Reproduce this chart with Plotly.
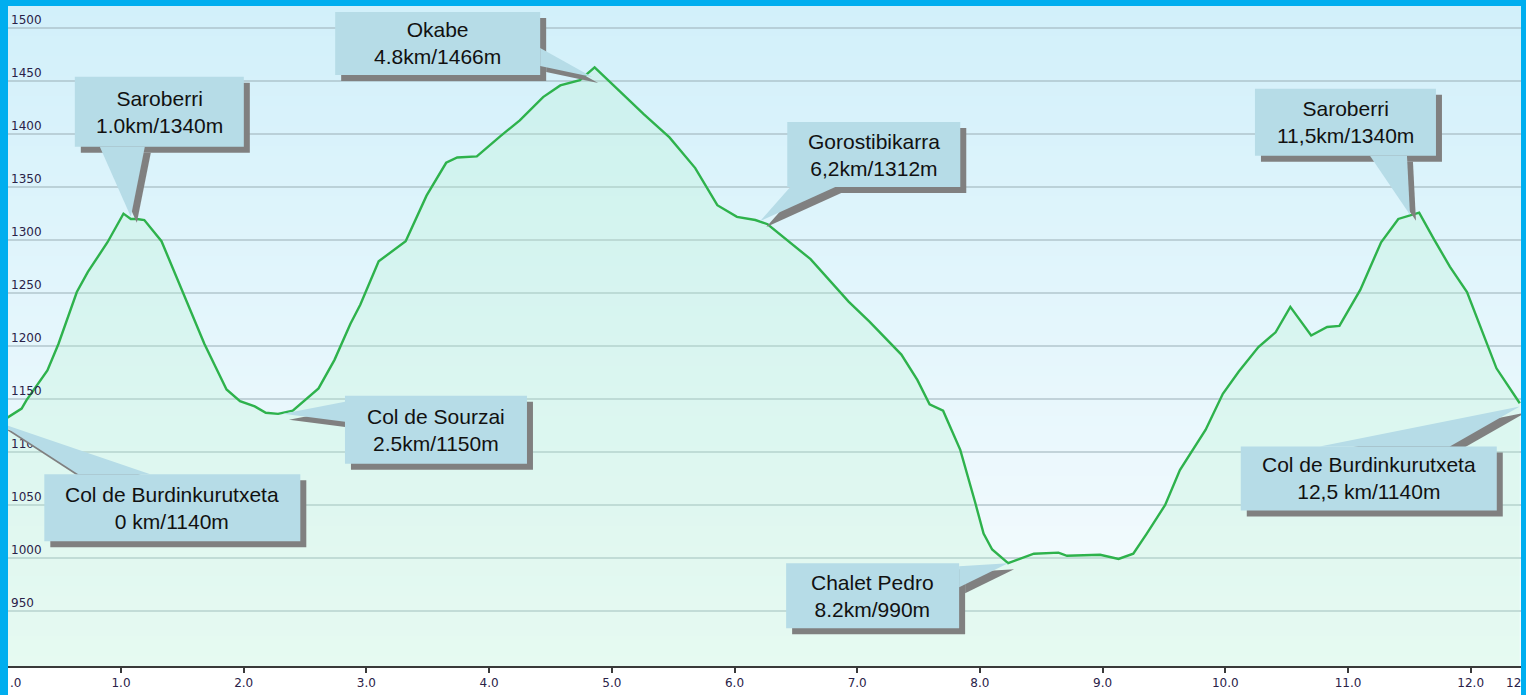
import plotly.graph_objects as go

# ---------------------------------------------------------------------------
# Data: elevation profile of the loop (distance km, elevation m)
# ---------------------------------------------------------------------------
DIST_KM = [
    0.00, 0.19, 0.23, 0.40, 0.49, 0.64, 0.73, 0.89, 1.02, 1.08, 1.13, 1.19,
    1.33, 1.49, 1.68, 1.86, 1.97, 2.09, 2.18, 2.28, 2.40, 2.61, 2.74, 2.87,
    2.95, 3.10, 3.32, 3.49, 3.65, 3.74, 3.90, 4.09, 4.25, 4.44, 4.58, 4.74,
    4.86, 5.07, 5.26, 5.47, 5.68, 5.86, 6.02, 6.17, 6.27, 6.62, 6.93, 7.10,
    7.36, 7.49, 7.59, 7.70, 7.84, 7.96, 8.03, 8.10, 8.23, 8.44, 8.64, 8.71,
    8.98, 9.13, 9.25, 9.36, 9.51, 9.63, 9.84, 9.98, 10.11, 10.27, 10.41,
    10.53, 10.70, 10.83, 10.93, 11.10, 11.27, 11.41, 11.52, 11.58, 11.70,
    11.83, 11.97, 12.21, 12.40,
]
ELEV_M = [
    1127, 1141, 1149, 1177, 1202, 1251, 1270, 1298, 1325, 1320, 1320, 1319,
    1299, 1254, 1202, 1159, 1148, 1143, 1137, 1136, 1139, 1160, 1187, 1221,
    1239, 1280, 1299, 1342, 1373, 1378, 1379, 1398, 1413, 1435, 1446, 1451,
    1463, 1440, 1419, 1397, 1368, 1333, 1322, 1319, 1315, 1282, 1242, 1223,
    1192, 1168, 1145, 1139, 1102, 1053, 1023, 1008, 995, 1004, 1005, 1002,
    1003, 999, 1004, 1023, 1050, 1083, 1121, 1155, 1176, 1199, 1213,
    1237, 1210, 1218, 1219, 1253, 1298, 1320, 1324, 1326, 1301,
    1275, 1251, 1179, 1146,
]

Y_TICKS = [950, 1000, 1050, 1100, 1150, 1200, 1250, 1300, 1350, 1400, 1450, 1500]
X_TICKS = [1.0, 2.0, 3.0, 4.0, 5.0, 6.0, 7.0, 8.0, 9.0, 10.0, 11.0, 12.0]

# waypoints shown in the callouts
CALLOUT_TEXT = [
    "Col de Burdinkurutxeta<br>0 km/1140m",
    "Saroberri<br>1.0km/1340m",
    "Col de Sourzai<br>2.5km/1150m",
    "Okabe<br>4.8km/1466m",
    "Gorostibikarra<br>6,2km/1312m",
    "Chalet Pedro<br>8.2km/990m",
    "Saroberri<br>11,5km/1340m",
    "Col de Burdinkurutxeta<br>12,5 km/1140m",
]
CALLOUT_KM = [0.0, 1.08, 2.32, 4.84, 6.21, 8.23, 11.505, 12.40]
CALLOUT_ELEV = [1128, 1322, 1136, 1454, 1318, 995, 1324, 1143]

# callout geometry in screen pixels relative to the tip (dx right, dy down):
# box = (x0, x1, y0, y1), base = two points where the pointer meets the box
CALLOUT_GEOM = [
    dict(box=(46, 302, 52, 119), base=((80, 52), (152, 52))),
    dict(box=(-56, 113, -140, -70), base=((-31, -70), (14, -70))),
    dict(box=(62, 244, -18, 50), base=((62, -12), (62, 8))),
    dict(box=(-257, -52, -65, -2), base=((-52, -29), (-52, -11))),
    dict(box=(27, 200, -99, -34), base=((30, -34), (75, -34))),
    dict(box=(-222, -49, 0, 65), base=((-49, 3), (-49, 24))),
    dict(box=(-155, 26, -126, -59), base=((-40, -59), (-3, -59))),
    dict(box=(-279, -23, 40, 104), base=((-200, 40), (-70, 40))),
]

# ---------------------------------------------------------------------------
# Style
# ---------------------------------------------------------------------------
W, H = 1526, 695
MARGIN = dict(l=8, r=5, t=6, b=29)
PW = W - MARGIN["l"] - MARGIN["r"]
PH = H - MARGIN["t"] - MARGIN["b"]
X_RANGE = [0.079, 12.41]
PX_PER_KM = PW / (X_RANGE[1] - X_RANGE[0])
BORDER = "#00aeef"
BOX_FILL = "#b6dce7"
SHADOW = "#808080"
LINE_GREEN = "#2eb24c"
TOP_RGB = (210, 240, 250)
BOTTOM_RGB = (247, 252, 254)
TICK_FONT = dict(family="DejaVu Sans, Verdana, sans-serif", size=12, color="#2a2248")
LABEL_FONT = dict(family="Liberation Sans, Arial, sans-serif", size=21, color="#111111")


def _path(points, ox=0, oy=0):
    # pixel offsets, screen y down -> shape y up
    pts = [f"{x + ox},{-(y + oy)}" for x, y in points]
    return "M" + " L".join(pts) + " Z"


fig = go.Figure()

fig.add_trace(
    go.Scatter(
        x=DIST_KM,
        y=ELEV_M,
        mode="lines",
        line=dict(color=LINE_GREEN, width=2.4),
        fill="tozeroy",
        fillcolor="rgba(185, 245, 208, 0.27)",
        hoverinfo="x+y",
        showlegend=False,
    )
)

shapes = []

# background gradient (light blue at top, almost white at bottom)
n_bands = 66
for i in range(n_bands):
    t = i / (n_bands - 1)
    r, g, b = (round(BOTTOM_RGB[k] + (TOP_RGB[k] - BOTTOM_RGB[k]) * t) for k in range(3))
    shapes.append(dict(
        type="rect", xref="paper", yref="paper", layer="below",
        x0=0, x1=1, y0=i / n_bands, y1=min(1, (i + 1.5) / n_bands),
        fillcolor=f"rgb({r},{g},{b})", line=dict(width=0),
    ))

# callouts: shadows first, then boxes
for layer_pass in ("shadow", "box"):
    for km, elev, geom in zip(CALLOUT_KM, CALLOUT_ELEV, CALLOUT_GEOM):
        x0, x1, y0, y1 = geom["box"]
        rect = [(x0, y0), (x1, y0), (x1, y1), (x0, y1)]
        tri = [(0, 0), geom["base"][0], geom["base"][1]]
        off = 6 if layer_pass == "shadow" else 0
        color = SHADOW if layer_pass == "shadow" else BOX_FILL
        for poly in (rect, tri):
            shapes.append(dict(
                type="path", xref="x", yref="y",
                xsizemode="pixel", ysizemode="pixel",
                xanchor=km, yanchor=elev,
                path=_path(poly, off, off),
                fillcolor=color, line=dict(width=0), layer="above",
            ))

# blue frame
shapes += [
    dict(type="rect", xref="paper", yref="paper", layer="above",
         x0=-MARGIN["l"] / PW, x1=0, y0=-MARGIN["b"] / PH, y1=1 + MARGIN["t"] / PH,
         fillcolor=BORDER, line=dict(width=0)),
    dict(type="rect", xref="paper", yref="paper", layer="above",
         x0=1, x1=1 + MARGIN["r"] / PW, y0=-MARGIN["b"] / PH, y1=1 + MARGIN["t"] / PH,
         fillcolor=BORDER, line=dict(width=0)),
    dict(type="rect", xref="paper", yref="paper", layer="above",
         x0=-MARGIN["l"] / PW, x1=1 + MARGIN["r"] / PW, y0=1, y1=1 + MARGIN["t"] / PH,
         fillcolor=BORDER, line=dict(width=0)),
]

annotations = []
for km, elev, geom, text in zip(CALLOUT_KM, CALLOUT_ELEV, CALLOUT_GEOM, CALLOUT_TEXT):
    x0, x1, y0, y1 = geom["box"]
    # annotations outside the axis range are hidden, so clamp the anchor
    ax_km = min(max(km, X_RANGE[0]), X_RANGE[1])
    extra = (km - ax_km) * PX_PER_KM
    annotations.append(dict(
        x=ax_km, y=elev, xref="x", yref="y", text=text, showarrow=False,
        xshift=(x0 + x1) / 2 + extra, yshift=-(y0 + y1) / 2,
        font=LABEL_FONT, align="center",
    ))

# partially hidden edge labels of the distance axis
annotations += [
    dict(x=0, y=-17 / PH, xref="paper", yref="paper", text=".0", showarrow=False,
         xanchor="left", yanchor="middle", font=TICK_FONT),
    dict(x=(1504 - MARGIN["l"]) / PW, y=-17 / PH, xref="paper", yref="paper", text="12",
         showarrow=False, xanchor="left", yanchor="middle", font=TICK_FONT),
]

fig.update_layout(
    width=W,
    height=H,
    margin=dict(**MARGIN, pad=0),
    paper_bgcolor="white",
    plot_bgcolor="rgba(0,0,0,0)",
    shapes=shapes,
    annotations=annotations,
    showlegend=False,
    xaxis=dict(
        range=X_RANGE,
        tickvals=X_TICKS,
        ticktext=[f"{v:.1f}" for v in X_TICKS],
        showgrid=False,
        zeroline=False,
        showline=True,
        linecolor="#3a3a3a",
        linewidth=2,
        ticks="outside",
        ticklen=5,
        tickwidth=1.5,
        tickcolor="#3a3a3a",
        tickfont=TICK_FONT,
    ),
    yaxis=dict(
        range=[898, 1521],
        tickvals=Y_TICKS,
        ticklabelposition="inside top",
        showgrid=True,
        gridcolor="rgba(160, 180, 188, 0.55)",
        gridwidth=2,
        zeroline=False,
        showline=False,
        ticks="",
        tickfont=TICK_FONT,
    ),
)

fig.write_html(
    "out.html",
    config={"displayModeBar": False},
    post_script="document.body.style.margin = '0px';",
)
